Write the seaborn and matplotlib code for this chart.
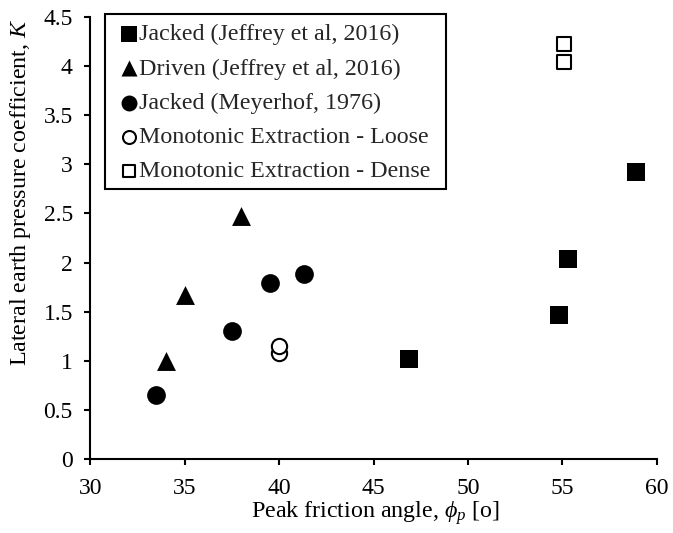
import matplotlib
matplotlib.use("Agg")
import matplotlib.pyplot as plt
from matplotlib.patches import Rectangle
import numpy as np
import pandas as pd
import seaborn as sns

# values
jacked_jeffrey_phi = [46.9, 54.8, 55.3, 58.9]
jacked_jeffrey_k = [1.02, 1.47, 2.04, 2.92]

driven_jeffrey_phi = [34.0, 35.0, 38.0]
driven_jeffrey_k = [1.00, 1.67, 2.47]

jacked_meyerhof_phi = [33.5, 37.5, 39.5, 41.3]
jacked_meyerhof_k = [0.65, 1.30, 1.79, 1.88]

loose_phi = [40.0, 40.0]
loose_k = [1.08, 1.15]

dense_phi = [55.1, 55.1]
dense_k = [4.04, 4.23]

series_names = [
    "Jacked (Jeffrey et al, 2016)",
    "Driven (Jeffrey et al, 2016)",
    "Jacked (Meyerhof, 1976)",
    "Monotonic Extraction - Loose",
    "Monotonic Extraction - Dense",
]

x_ticks = [30, 35, 40, 45, 50, 55, 60]
y_ticks = [0, 0.5, 1, 1.5, 2, 2.5, 3, 3.5, 4, 4.5]


def build_frame() -> pd.DataFrame:
    parts = [
        (jacked_jeffrey_phi, jacked_jeffrey_k),
        (driven_jeffrey_phi, driven_jeffrey_k),
        (jacked_meyerhof_phi, jacked_meyerhof_k),
        (loose_phi, loose_k),
        (dense_phi, dense_k),
    ]
    rows = []
    for name, (xs, ys) in zip(series_names, parts):
        for x, y in zip(xs, ys):
            rows.append({"phi": x, "K": y, "series": name})
    return pd.DataFrame(rows)


def main() -> None:
    sns.set_theme(style="ticks")
    plt.rcParams["font.family"] = ["Liberation Serif", "DejaVu Serif"]
    plt.rcParams["mathtext.fontset"] = "custom"
    plt.rcParams["mathtext.rm"] = "Liberation Serif"
    plt.rcParams["mathtext.it"] = "Liberation Serif:italic"

    df = build_frame()

    # marker, filled, size
    styles = {
        series_names[0]: ("s", True, 169),
        series_names[1]: ("^", True, 185),
        series_names[2]: ("o", True, 182),
        series_names[3]: ("o", False, 121),
        series_names[4]: ("s", False, 100),
    }

    fig = plt.figure(figsize=(6.73, 5.33), dpi=100)
    ax = fig.add_axes([0.134, 0.139, 0.842, 0.829])

    for name in series_names:
        marker, filled, size = styles[name]
        sub = df[df["series"] == name]
        sns.scatterplot(
            data=sub, x="phi", y="K", ax=ax,
            marker=marker, s=size,
            facecolor="black" if filled else "white",
            edgecolor="black", linewidth=0 if filled else 1.5,
            label=name, zorder=3,
        )

    ax.set_xlim(30, 60)
    ax.set_ylim(0, 4.5)
    ax.set_xticks(x_ticks)
    ax.set_yticks(y_ticks)
    ax.set_xticklabels([str(t) for t in x_ticks])
    ax.set_yticklabels([f"{t:g}" for t in y_ticks])
    ax.tick_params(axis="both", labelsize=17, direction="out", length=4.5,
                   width=1.5, color="black", labelcolor="black")
    ax.tick_params(axis="x", pad=9)
    ax.tick_params(axis="y", pad=8)
    for side in ["left", "bottom"]:
        ax.spines[side].set_linewidth(1.5)
        ax.spines[side].set_color("black")
    sns.despine(ax=ax)

    ax.set_xlabel(r"Peak friction angle, $\mathit{\phi_p}$ [o]", fontsize=17.3, color="black")
    ax.set_ylabel(r"Lateral earth pressure coefficient, $\mathit{K}$", fontsize=17.3, color="black")
    ax.xaxis.set_label_coords(0.503, -0.092)
    ax.yaxis.set_label_coords(-0.101, 0.604)

    # legend without its own frame, box drawn separately to match the padding
    ax.legend(
        loc="upper left", bbox_to_anchor=(0.0265, 1.002), borderaxespad=0,
        fontsize=17.3, frameon=False, markerscale=0.85, handlelength=1.4,
        handletextpad=-0.3, labelspacing=0.52, borderpad=0.3,
    )
    box = Rectangle((0.0265, 0.611), 0.6015, 0.3958, transform=ax.transAxes,
                    fill=True, facecolor="white", edgecolor="black",
                    linewidth=1.5, clip_on=False, zorder=4)
    ax.add_patch(box)
    ax.get_legend().set_zorder(5)

    fig.savefig("out.png", dpi=100)
    plt.close(fig)


if __name__ == "__main__":
    main()
